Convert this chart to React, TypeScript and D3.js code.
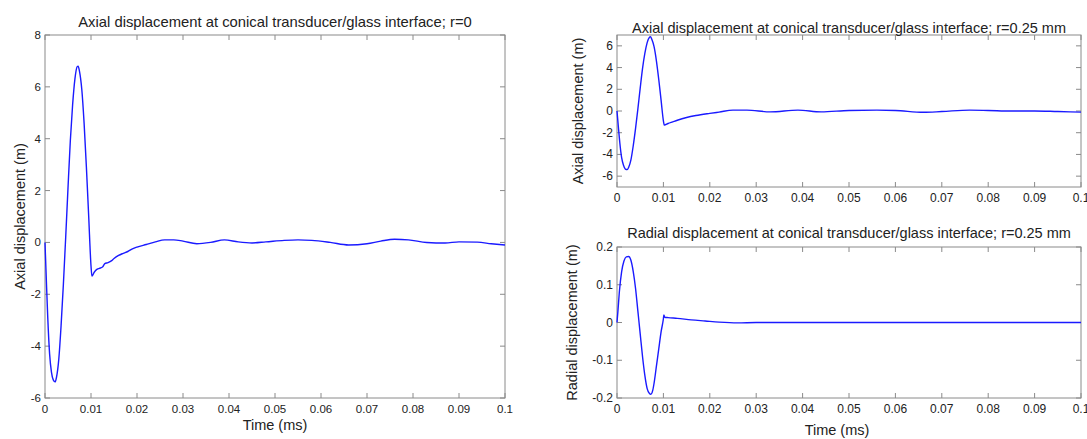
import React from "react";
import * as d3 from "d3";

// ---------- data ----------
const xTicks = [0, 0.01, 0.02, 0.03, 0.04, 0.05, 0.06, 0.07, 0.08, 0.09, 0.1];
const axialTicksR0 = [-6, -4, -2, 0, 2, 4, 6, 8];
const axialTicksR25 = [-6, -4, -2, 0, 2, 4, 6];
const radialTicks = [-0.2, -0.1, 0, 0.1, 0.2];

const tAxial0 = [
  0, 0.0003, 0.0006, 0.001, 0.0014, 0.0018, 0.0022, 0.0025, 0.003, 0.0035, 0.004, 0.0045,
  0.005, 0.0055, 0.006, 0.0065, 0.007, 0.0072, 0.0075, 0.008, 0.0085, 0.009, 0.0095, 0.01,
  0.0102, 0.0107, 0.0112, 0.0118, 0.0125, 0.013, 0.0137, 0.0145, 0.015, 0.016, 0.017, 0.018,
  0.019, 0.02, 0.022, 0.024, 0.026, 0.028, 0.03, 0.033, 0.036, 0.039, 0.042, 0.045, 0.048,
  0.052, 0.055, 0.058, 0.062, 0.066, 0.07, 0.073, 0.076, 0.079, 0.083, 0.087, 0.09, 0.094,
  0.097, 0.1,
];
const vAxial0 = [
  0, -1.5, -2.9, -4.3, -5.0, -5.3, -5.38, -5.2, -4.5, -3.2, -1.6, 0.2,
  2.1, 3.9, 5.3, 6.3, 6.78, 6.8, 6.6, 5.9, 4.6, 2.9, 1.0, -0.9,
  -1.3, -1.15, -1.05, -1.0, -0.95, -0.82, -0.78, -0.7, -0.62, -0.5, -0.42, -0.35,
  -0.25, -0.18, -0.08, 0.02, 0.1, 0.1, 0.05, -0.05, 0.0, 0.1, 0.02, -0.02, 0.02,
  0.08, 0.1, 0.08, 0.0, -0.1, -0.05, 0.05, 0.12, 0.1, 0.0, -0.02, 0.02, 0.01,
  -0.05, -0.1,
];

const tAxial25 = [
  0, 0.0003, 0.0006, 0.001, 0.0014, 0.0018, 0.0022, 0.0025, 0.003, 0.0035, 0.004, 0.0045,
  0.005, 0.0055, 0.006, 0.0065, 0.007, 0.0072, 0.0075, 0.008, 0.0085, 0.009, 0.0095, 0.01,
  0.0102, 0.011, 0.012, 0.013, 0.015, 0.017, 0.02, 0.022, 0.025, 0.028, 0.033, 0.039,
  0.044, 0.05, 0.056, 0.06, 0.066, 0.07, 0.076, 0.08, 0.085, 0.09, 0.095, 0.1,
];
const vAxial25 = [
  0, -1.5, -2.9, -4.3, -5.0, -5.35, -5.4, -5.2, -4.5, -3.2, -1.6, 0.2,
  2.1, 3.9, 5.3, 6.3, 6.8, 6.85, 6.6, 5.9, 4.6, 2.9, 1.0, -0.9,
  -1.3, -1.15, -1.0, -0.85, -0.6, -0.42, -0.22, -0.1, 0.08, 0.08, -0.08, 0.08,
  -0.08, 0.05, 0.08, 0.05, -0.12, -0.05, 0.08, 0.05, 0.0, 0.0, -0.05, -0.1,
];

const tRadial = [
  0, 0.0002, 0.0005, 0.001, 0.0015, 0.002, 0.0025, 0.003, 0.0035, 0.004, 0.0045, 0.005,
  0.0055, 0.006, 0.0065, 0.007, 0.0073, 0.0077, 0.008, 0.0085, 0.009, 0.0095, 0.01, 0.0101,
  0.0103, 0.011, 0.013, 0.016, 0.019, 0.022, 0.026, 0.03, 0.04, 0.05, 0.06, 0.07, 0.08,
  0.09, 0.1,
];
const vRadial = [
  0, 0.03, 0.08, 0.135, 0.163, 0.174, 0.175, 0.165, 0.135, 0.09, 0.03, -0.03,
  -0.09, -0.14, -0.175, -0.188, -0.19, -0.18, -0.16, -0.115, -0.07, -0.025, 0.01, 0.02,
  0.014, 0.013, 0.011, 0.007, 0.004, 0.001, -0.001, 0.0, 0.0, 0.0, 0.0, 0.0, 0.0,
  0.0, 0.0,
];

// ---------- drawing ----------
const FONT = "'Liberation Sans', Arial, sans-serif";
const AXIS = "#8a8a8a";
const TEXT = "#222";

type PanelProps = {
  left: number; right: number; top: number; bottom: number;
  yDomain: [number, number]; yTicks: number[];
  t: number[]; v: number[];
  title: string; titleY: number; titleSize: number; tickSize: number;
  yLabel: string; yLabelX: number;
  xLabel?: string; xLabelY?: number; xLabelX?: number;
};

function Panel(p: PanelProps) {
  const x = d3.scaleLinear().domain([0, 0.1]).range([p.left, p.right]);
  const y = d3.scaleLinear().domain(p.yDomain).range([p.bottom, p.top]);
  const line = d3
    .line<number>()
    .x((_, i) => x(p.t[i]))
    .y((d) => y(d))
    .curve(d3.curveMonotoneX);
  const tl = 5;
  const cx = (p.left + p.right) / 2;
  const cy = (p.top + p.bottom) / 2;
  return (
    <g>
      <rect x={p.left} y={p.top} width={p.right - p.left} height={p.bottom - p.top}
        fill="none" stroke={AXIS} strokeWidth={1} />
      {xTicks.map((tk) => (
        <g key={"x" + tk}>
          <line x1={x(tk)} x2={x(tk)} y1={p.bottom} y2={p.bottom - tl} stroke={AXIS} />
          <line x1={x(tk)} x2={x(tk)} y1={p.top} y2={p.top + tl} stroke={AXIS} />
          <text x={x(tk)} y={p.bottom + 15} textAnchor="middle" fontSize={p.tickSize} fill={TEXT}
            fontFamily={FONT}>{String(tk)}</text>
        </g>
      ))}
      {p.yTicks.map((tk) => (
        <g key={"y" + tk}>
          <line x1={p.left} x2={p.left + tl} y1={y(tk)} y2={y(tk)} stroke={AXIS} />
          <line x1={p.right} x2={p.right - tl} y1={y(tk)} y2={y(tk)} stroke={AXIS} />
          <text x={p.left - 4} y={y(tk) + 4} textAnchor="end" fontSize={p.tickSize} fill={TEXT}
            fontFamily={FONT}>{String(tk)}</text>
        </g>
      ))}
      <path d={line(p.v) || ""} fill="none" stroke="#1a1aff" strokeWidth={1.4} />
      <text x={cx} y={p.titleY} textAnchor="middle" fontSize={p.titleSize} fill={TEXT} fontFamily={FONT}>
        {p.title}
      </text>
      <text transform={`translate(${p.yLabelX},${cy}) rotate(-90)`} textAnchor="middle"
        fontSize={14.5} fill={TEXT} fontFamily={FONT}>{p.yLabel}</text>
      {p.xLabel && (
        <text x={p.xLabelX ?? cx} y={p.xLabelY} textAnchor="middle" fontSize={14.5} fill={TEXT}
          fontFamily={FONT}>
          {p.xLabel}
        </text>
      )}
    </g>
  );
}

export default function App() {
  return (
    <svg width={1087} height={439} style={{ position: "absolute", left: 0, top: 0, background: "#fff" }}>
      <rect x={0} y={0} width={1087} height={439} fill="#fff" />
      <Panel left={45} right={505} top={35} bottom={398} yDomain={[-6, 8]} yTicks={axialTicksR0}
        t={tAxial0} v={vAxial0} titleSize={14.8} tickSize={11.5}
        title="Axial displacement at conical transducer/glass interface; r=0" titleY={27}
        yLabel="Axial displacement (m)" yLabelX={25} xLabel="Time (ms)" xLabelY={430} />
      <Panel left={617} right={1081} top={35} bottom={187} yDomain={[-7, 7]} yTicks={axialTicksR25}
        t={tAxial25} v={vAxial25} titleSize={14.5} tickSize={12}
        title="Axial displacement at conical transducer/glass interface; r=0.25 mm" titleY={33}
        yLabel="Axial displacement (m)" yLabelX={583} />
      <Panel left={617} right={1081} top={247} bottom={398} yDomain={[-0.2, 0.2]} yTicks={radialTicks}
        t={tRadial} v={vRadial} titleSize={14.5} tickSize={12}
        title="Radial displacement at conical transducer/glass interface; r=0.25 mm" titleY={238}
        yLabel="Radial displacement (m)" yLabelX={577} xLabel="Time (ms)" xLabelY={435} xLabelX={837} />
    </svg>
  );
}
